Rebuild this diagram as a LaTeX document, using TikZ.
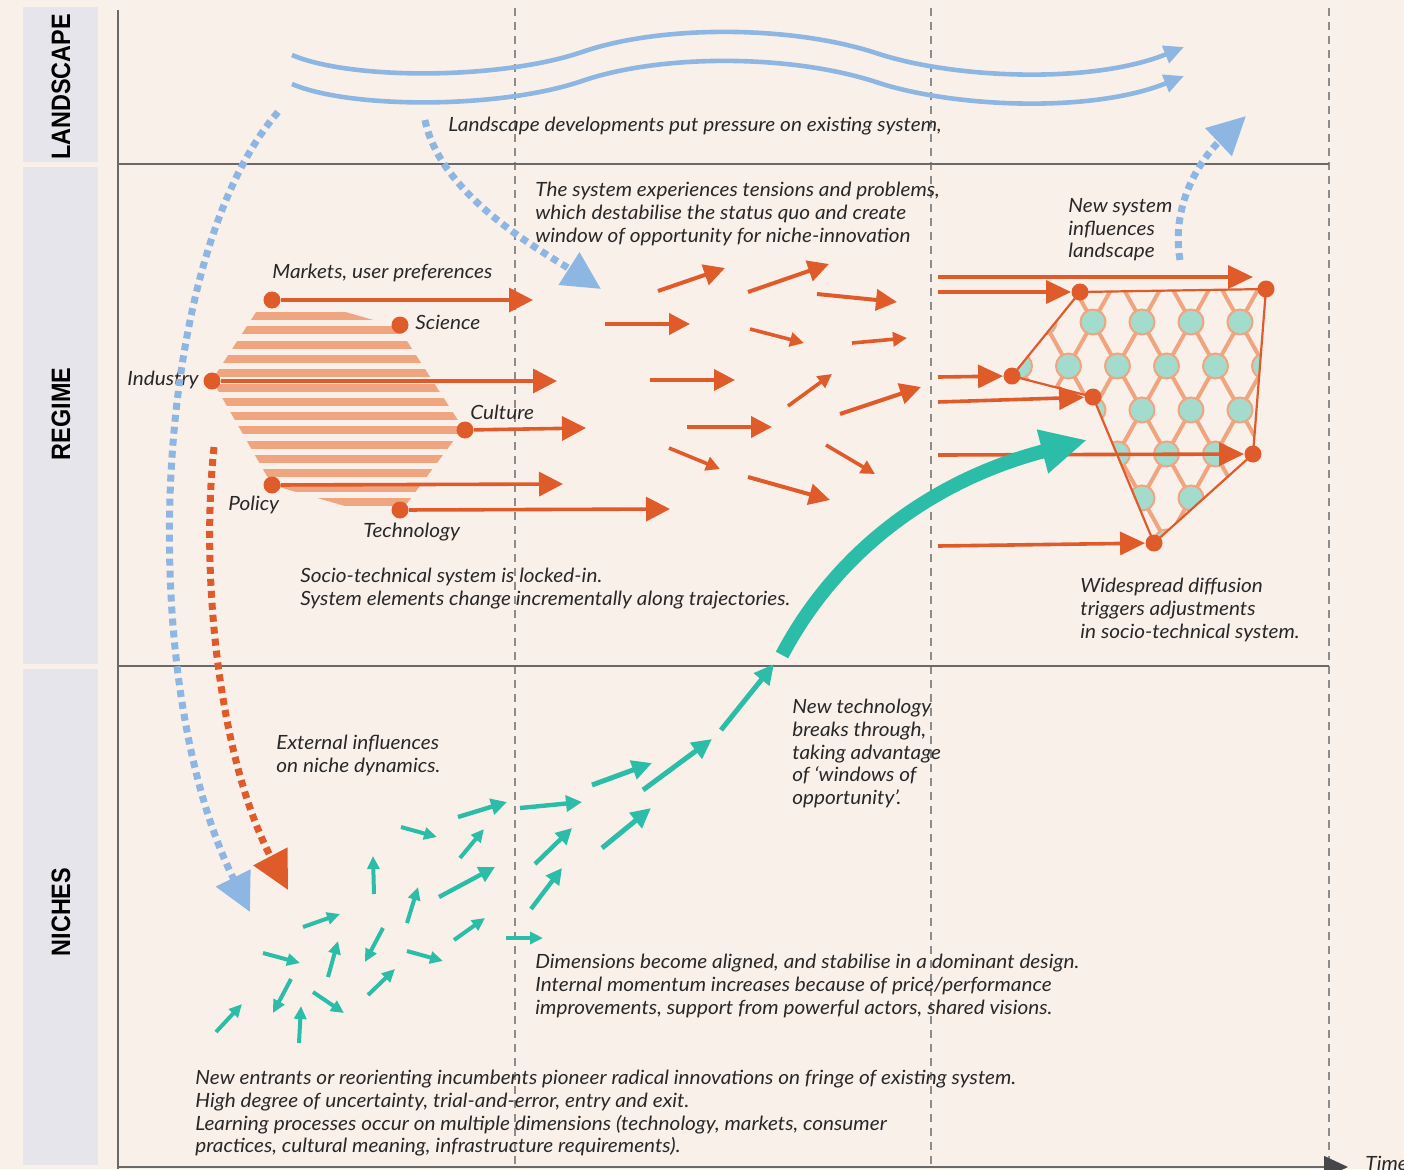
\documentclass[tikz,border=0pt]{standalone}
\usepackage{fontspec}
\setmainfont{Lato}
\newfontfamily\notefont[FakeStretch=1.06]{Lato}
\newfontfamily\bandfont[FakeStretch=0.88]{Liberation Sans}
\usepackage{tikz}
\usetikzlibrary{arrows.meta}
\definecolor{paper}{RGB}{250,240,234}
\definecolor{bandgray}{RGB}{229,229,235}
\definecolor{framegray}{RGB}{105,105,105}
\definecolor{dashgray}{RGB}{140,140,140}
\definecolor{axisdark}{RGB}{70,70,75}
\definecolor{inkgray}{RGB}{40,40,40}
\definecolor{skyblue}{RGB}{141,182,226}
\definecolor{rust}{RGB}{224,91,42}
\definecolor{peach}{RGB}{239,166,128}
\definecolor{mint}{RGB}{163,219,205}
\definecolor{teal}{RGB}{43,189,167}

\begin{document}
\begin{tikzpicture}[
    x=0.5pt, y=-0.5pt,
    band/.style={fill=bandgray},
    bandlabel/.style={font=\bandfont\bfseries\fontsize{13.3}{14}\selectfont, rotate=90, text=black},
    frame/.style={draw=framegray, line width=0.8pt},
    era/.style={draw=dashgray, line width=0.75pt, dash pattern=on 4pt off 3pt},
    note/.style={font=\notefont\itshape\fontsize{9.8}{11.3}\selectfont, text=inkgray, align=left,
                 anchor=north west, inner sep=0pt, yshift=-1pt},
    landwave/.style={draw=skyblue, line width=2.3pt, -{Triangle[length=10pt,width=9pt]}},
    dotflow/.style={line width=3.5pt, dash pattern=on 3.5pt off 2.5pt,
                    -{Triangle[length=19pt,width=18.5pt]}},
    elem/.style={circle, fill=rust, inner sep=0pt, minimum size=8.5pt},
    trajectory/.style={draw=rust, line width=1.8pt, -{Triangle[length=12pt,width=12pt]}},
    drift/.style={draw=rust, line width=2pt, -{Triangle[length=10.5pt,width=10.5pt]}},
    driftsmall/.style={draw=rust, line width=1.8pt, -{Triangle[length=7pt,width=7pt]}},
    seed/.style={draw=teal, line width=2pt, -{Triangle[length=6.5pt,width=6pt]}},
    seedmid/.style={draw=teal, line width=2.2pt, -{Triangle[length=8pt,width=8pt]}},
    seedbig/.style={draw=teal, line width=2.5pt, -{Triangle[length=10pt,width=9.5pt]}},
    breakthrough/.style={draw=teal, line width=7pt, -{Triangle[length=23pt,width=21pt]}},
]
    \useasboundingbox (0,0) rectangle (1404,1169);
    \fill[paper] (0,0) rectangle (1404,1169);

    % Level bands on the left
    \fill[band] (23,7) rectangle (98,162);
    \fill[band] (23,167) rectangle (98,664);
    \fill[band] (23,669) rectangle (98,1165);
    \node[bandlabel] (lblLandscape) at (61,87) {LANDSCAPE};
    \node[bandlabel] (lblRegime) at (61,414) {REGIME};
    \node[bandlabel] (lblNiches) at (61,912) {NICHES};

    % Axes, level separators and time phases
    \foreach \x in {515,931,1329}
        \draw[era] (\x,8) -- (\x,1169);
    \draw[frame] (118,10) -- (118,1169);
    \draw[frame] (118,164) -- (1329,164);
    \draw[frame] (118,666) -- (1329,666);
    \draw[frame, -{Triangle[length=12pt,width=11pt,color=axisdark]}] (118,1167) -- (1348,1167);
    \node[note] (timeLbl) at (1365,1154) {Time};

    % Landscape pressure (wavy arrows)
    \draw[landwave] (292,55) .. controls (350,80) and (500,80) .. (582,52)
        .. controls (660,25) and (790,25) .. (876,53)
        .. controls (950,78) and (1090,85) .. (1184,47);
    \draw[landwave] (292,84) .. controls (350,109) and (500,109) .. (582,81)
        .. controls (660,54) and (790,54) .. (876,82)
        .. controls (950,107) and (1090,114) .. (1184,76);
    \node[note] (landNote) at (448,115) {Landscape developments put pressure on existing system,};

    % Hatched regime core
    \begin{scope}
        \clip (258,309) -- (335,309) -- (398,327) -- (463,428) -- (405,506)
            -- (345,506) -- (272,485) -- (212,380) -- cycle;
        \foreach \k in {0,...,13}
            \fill[peach] (200,{312+14.3*\k}) rectangle (480,{320+14.3*\k});
    \end{scope}

    % Regime elements and their trajectories
    \node[elem] (markets) at (272,300) {};
    \node[elem] (science) at (400,325) {};
    \node[elem] (industry) at (212,381) {};
    \node[elem] (culture) at (465,430) {};
    \node[elem] (policy) at (272,485) {};
    \node[elem] (technology) at (400,510) {};
    \draw[trajectory] (markets) -- (533,300);
    \draw[trajectory] (industry) -- (557,381);
    \draw[trajectory] (culture) -- (586,428);
    \draw[trajectory] (policy) -- (563,484);
    \draw[trajectory] (technology) -- (670,509);
    \node[note] (marketsLbl) at (272,262) {Markets, user preferences};
    \node[note] (scienceLbl) at (415,313) {Science};
    \node[note, anchor=north east] (industryLbl) at (199,369) {Industry};
    \node[note] (cultureLbl) at (470,403) {Culture};
    \node[note] (policyLbl) at (228,494) {Policy};
    \node[note] (technologyLbl) at (363,521) {Technology};

    % Destabilised regime
    \draw[drift] (658,291) -- (725,268);
    \draw[drift] (748,292) -- (829,264);
    \draw[drift] (817,294) -- (897,302);
    \draw[drift] (605,324) -- (690,324);
    \draw[drift] (650,380) -- (735,380);
    \draw[drift] (840,414) -- (921,387);
    \draw[drift] (687,427) -- (772,427);
    \draw[drift] (748,477) -- (830,500);
    \draw[driftsmall] (750,329) -- (804,343);
    \draw[driftsmall] (852,343) -- (907,338);
    \draw[driftsmall] (788,406) -- (832,374);
    \draw[driftsmall] (669,448) -- (720,469);
    \draw[driftsmall] (826,445) -- (875,474);
    \node[note] (tensionNote) at (535,180) {The system experiences tensions and problems,\\
        which destabilise the status quo and create\\
        window of opportunity for niche-innovation};
    \node[note] (lockedNote) at (300,566) {Socio-technical system is locked-in.\\
        System elements change incrementally along trajectories.};

    % New regime network
    \coordinate (web1) at (1080,292);
    \coordinate (web2) at (1266,289);
    \coordinate (web3) at (1253,454);
    \coordinate (web4) at (1154,543);
    \coordinate (web5) at (1093,397);
    \coordinate (web6) at (1012,376);
    \begin{scope}
        \clip (web1) -- (web2) -- (web3) -- (web4) -- (web5) -- (web6) -- cycle;
        \foreach \j in {0,...,6}
            \foreach \i in {-1,...,5}
                \draw[peach, line width=2pt]
                    ({1068.5+24.5*mod(\j,2)+49*\i},{278+44*\j}) -- ++(24.5,44)
                    ({1068.5+24.5*mod(\j,2)+49*\i},{278+44*\j}) -- ++(-24.5,44);
        \foreach \j in {1,...,6}
            \foreach \i in {-1,...,5}
                \draw[peach, fill=mint, line width=1pt]
                    ({1068.5+24.5*mod(\j,2)+49*\i},{278+44*\j}) circle (6.25pt);
    \end{scope}
    \draw[rust, line width=1.1pt] (web1) -- (web2) -- (web3) -- (web4) -- (web5) -- (web6) -- cycle;
    \node[elem] (node1) at (web1) {};
    \node[elem] (node2) at (web2) {};
    \node[elem] (node3) at (web3) {};
    \node[elem] (node4) at (web4) {};
    \node[elem] (node5) at (web5) {};
    \node[elem] (node6) at (web6) {};
    \draw[trajectory, -{Triangle[length=12.5pt,width=11.5pt]}] (938,277) -- (1253,277);
    \draw[trajectory, -{Triangle[length=12.5pt,width=11.5pt]}] (938,292) -- (node1);
    \draw[trajectory, -{Triangle[length=12.5pt,width=11.5pt]}] (938,377) -- (node6);
    \draw[trajectory, -{Triangle[length=12.5pt,width=11.5pt]}] (938,402) -- (node5);
    \draw[trajectory, -{Triangle[length=12.5pt,width=11.5pt]}] (938,455) -- (node3);
    \draw[trajectory, -{Triangle[length=12.5pt,width=11.5pt]}] (938,546) -- (node4);
    \node[note] (newSystemNote) at (1068,196) {New system\\influences\\landscape};
    \node[note] (diffusionNote) at (1080,576) {Widespread diffusion\\
        triggers adjustments\\in socio-technical system.};

    % Dotted influence arrows between levels
    \draw[dotflow, skyblue] (278,112) .. controls (150,260) and (135,680) .. (250,912);
    \draw[dotflow, rust] (214,447) .. controls (200,580) and (220,760) .. (288,890);
    \draw[dotflow, skyblue] (425,120) .. controls (440,195) and (540,250) .. (601,289);
    \draw[dotflow, skyblue] (1180,260) .. controls (1170,200) and (1205,155) .. (1246,116);

    % Niche experiments
    \draw[seed] (401,827) -- (437,837);
    \draw[seed] (460,858) -- (484,829);
    \draw[seed] (374,894) -- (373,856);
    \draw[seed] (407,923) -- (418,887);
    \draw[seed] (303,927) -- (340,914);
    \draw[seed] (263,953) -- (300,963);
    \draw[seed] (383,928) -- (365,962);
    \draw[seed] (407,951) -- (443,961);
    \draw[seed] (454,940) -- (485,918);
    \draw[seed] (506,938) -- (543,938);
    \draw[seed] (328,977) -- (338,941);
    \draw[seed] (291,979) -- (273,1013);
    \draw[seed] (313,992) -- (344,1013);
    \draw[seed] (368,995) -- (395,969);
    \draw[seed] (216,1032) -- (242,1004);
    \draw[seed] (299,1043) -- (301,1006);
    \draw[seedmid] (458,817) -- (507,802);
    \draw[seedmid] (520,808) -- (582,802);
    \draw[seedmid] (535,864) -- (572,828);
    \draw[seedmid] (439,897) -- (495,867);
    \draw[seedmid] (531,909) -- (562,868);
    \draw[seedbig] (592,785) -- (652,763);
    \draw[seedbig] (643,790) -- (712,739);
    \draw[seedbig] (602,848) -- (651,808);
    \draw[seedbig] (721,730) -- (774,664);

    % Breakthrough into the regime
    \draw[breakthrough] (782,655) .. controls (840,545) and (940,478) .. (1087,440);

    \node[note] (externalNote) at (276,733) {External influences\\on niche dynamics.};
    \node[note] (breakNote) at (792,697) {New technology\\breaks through,\\
        taking advantage\\of ‘windows of\\opportunity’.};
    \node[note] (alignNote) at (535,952) {Dimensions become aligned, and stabilise in a dominant design.\\
        Internal momentum increases because of price/performance\\
        improvements, support from powerful actors, shared visions.};
    \node[note] (entrantNote) at (195,1068) {New entrants or reorienting incumbents pioneer radical innovations on fringe of existing system.\\
        High degree of uncertainty, trial-and-error, entry and exit.\\
        Learning processes occur on multiple dimensions (technology, markets, consumer\\
        practices, cultural meaning, infrastructure requirements).};
\end{tikzpicture}
\end{document}
